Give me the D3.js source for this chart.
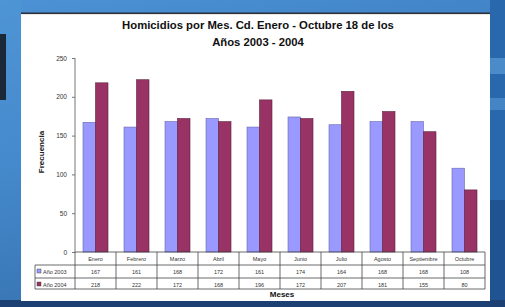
<!DOCTYPE html>
<html><head><meta charset="utf-8">
<script src="https://cdn.jsdelivr.net/npm/d3@7"></script>
<style>html,body{margin:0;padding:0;background:#2f6fb0;overflow:hidden}svg{display:block;font-family:"Liberation Sans",Arial,sans-serif}</style>
</head><body>
<script>
const months = ["Enero","Febrero","Marzo","Abril","Mayo","Junio","Julio","Agosto","Septiembre","Octubre"];
const seriesNames = ["Año 2003","Año 2004"];
const values2003 = [167,161,168,172,161,174,164,168,168,108];
const values2004 = [218,222,172,168,196,172,207,181,155,80];
const yTicks = [0,50,100,150,200,250];
const colors = ["#9999ff","#993366"];
const titleLines = ["Homicidios por Mes. Cd. Enero - Octubre 18 de los","Años 2003 - 2004"];

const W=505,H=307;
const svg=d3.select("body").append("svg").attr("width",W).attr("height",H);
const defs=svg.append("defs");
const g1=defs.append("linearGradient").attr("id","bg").attr("x1",0).attr("y1",0).attr("x2",0.3).attr("y2",1);
g1.append("stop").attr("offset",0).attr("stop-color","#4c92d4");
g1.append("stop").attr("offset",0.5).attr("stop-color","#3a7cc0");
g1.append("stop").attr("offset",1).attr("stop-color","#1f4f8c");
svg.append("rect").attr("width",W).attr("height",H).attr("fill","url(#bg)");
// right strip streaks
svg.append("rect").attr("x",490).attr("y",0).attr("width",15).attr("height",H).attr("fill","#2a68ad");
svg.append("rect").attr("x",490).attr("y",58).attr("width",15).attr("height",16).attr("fill","#5a9ad6").attr("opacity",0.7);
svg.append("rect").attr("x",490).attr("y",98).attr("width",15).attr("height",12).attr("fill","#5a9ad6").attr("opacity",0.6);
svg.append("rect").attr("x",490).attr("y",200).attr("width",15).attr("height",107).attr("fill","#1d4a85").attr("opacity",0.7);
// left strip
svg.append("rect").attr("x",0).attr("y",0).attr("width",21).attr("height",H).attr("fill","#4f97d8").attr("opacity",0.5);
svg.append("rect").attr("x",0).attr("y",34).attr("width",6).attr("height",66).attr("fill","#1b2838");
// bottom strip
svg.append("rect").attr("x",0).attr("y",300).attr("width",W).attr("height",7).attr("fill","#1c3f74");
// panel
svg.append("rect").attr("x",21).attr("y",13).attr("width",469).attr("height",288).attr("fill","#ffffff");
svg.append("rect").attr("x",21).attr("y",12.5).attr("width",469).attr("height",1.6).attr("fill","#2a2f38");

// title
svg.append("g").selectAll("text").data(titleLines).join("text")
  .attr("x",258).attr("y",(d,i)=>29+i*17).attr("text-anchor","middle")
  .attr("font-size",11.3).attr("font-weight","bold").attr("fill","#111").text(d=>d);

const x=d3.scaleBand().domain(months).range([75,485]);
const y=d3.scaleLinear().domain([0,250]).range([252,58]);
const x1=d3.scaleBand().domain(seriesNames).range([8,33]);

// bars
const data=[values2003,values2004];
const gb=svg.append("g");
data.forEach((vals,si)=>{
  gb.selectAll(null).data(vals).join("rect")
    .attr("x",(d,i)=>x(months[i])+x1(seriesNames[si]))
    .attr("y",d=>y(d)).attr("width",x1.bandwidth()).attr("height",d=>y(0)-y(d))
    .attr("fill",colors[si]).attr("stroke",si?"#5a1f3c":"#6666aa").attr("stroke-width",0.6);
});

// y axis
const ya=svg.append("g").attr("transform","translate(75,0)")
  .call(d3.axisLeft(y).tickValues(yTicks).tickSize(3).tickPadding(5));
ya.select(".domain").attr("stroke","#777").attr("d","M0,58V252");
ya.selectAll(".tick line").attr("stroke","#777");
ya.selectAll("text").attr("font-size",6.5).attr("fill","#333").attr("font-family","Liberation Sans, Arial");

svg.append("text").attr("transform","translate(44,152) rotate(-90)").attr("text-anchor","middle")
  .attr("font-size",8).attr("font-weight","bold").attr("fill","#222").text("Frecuencia");

// data table
const rowY=[252,265,278,289];
const tg=svg.append("g").attr("stroke","#444").attr("stroke-width",0.8);
tg.append("line").attr("x1",75).attr("x2",485).attr("y1",rowY[0]).attr("y2",rowY[0]);
[1,2,3].forEach(r=>tg.append("line").attr("x1",35).attr("x2",485).attr("y1",rowY[r]).attr("y2",rowY[r]));
tg.append("line").attr("x1",35).attr("x2",35).attr("y1",rowY[1]).attr("y2",rowY[3]);
months.forEach(m=>tg.append("line").attr("x1",x(m)).attr("x2",x(m)).attr("y1",rowY[0]).attr("y2",rowY[3]));
tg.append("line").attr("x1",485).attr("x2",485).attr("y1",rowY[0]).attr("y2",rowY[3]);

svg.append("g").selectAll("text").data(months).join("text")
  .attr("x",d=>x(d)+x.bandwidth()/2).attr("y",rowY[0]+9).attr("text-anchor","middle")
  .attr("font-size",5.5).attr("fill","#333").text(d=>d);
data.forEach((vals,si)=>{
  svg.append("g").selectAll("text").data(vals).join("text")
    .attr("x",(d,i)=>x(months[i])+x.bandwidth()/2).attr("y",rowY[si+1]+8.5).attr("text-anchor","middle")
    .attr("font-size",5.5).attr("fill","#333").text(d=>d);
  svg.append("rect").attr("x",37).attr("y",rowY[si+1]+4).attr("width",4).attr("height",4).attr("fill",colors[si]).attr("stroke","#333").attr("stroke-width",0.4);
  svg.append("text").attr("x",43).attr("y",rowY[si+1]+8.5).attr("font-size",5.5).attr("fill","#333").text(seriesNames[si]);
});

svg.append("text").attr("x",282).attr("y",297).attr("text-anchor","middle")
  .attr("font-size",8).attr("font-weight","bold").attr("fill","#111").text("Meses");
</script>
</body></html>
